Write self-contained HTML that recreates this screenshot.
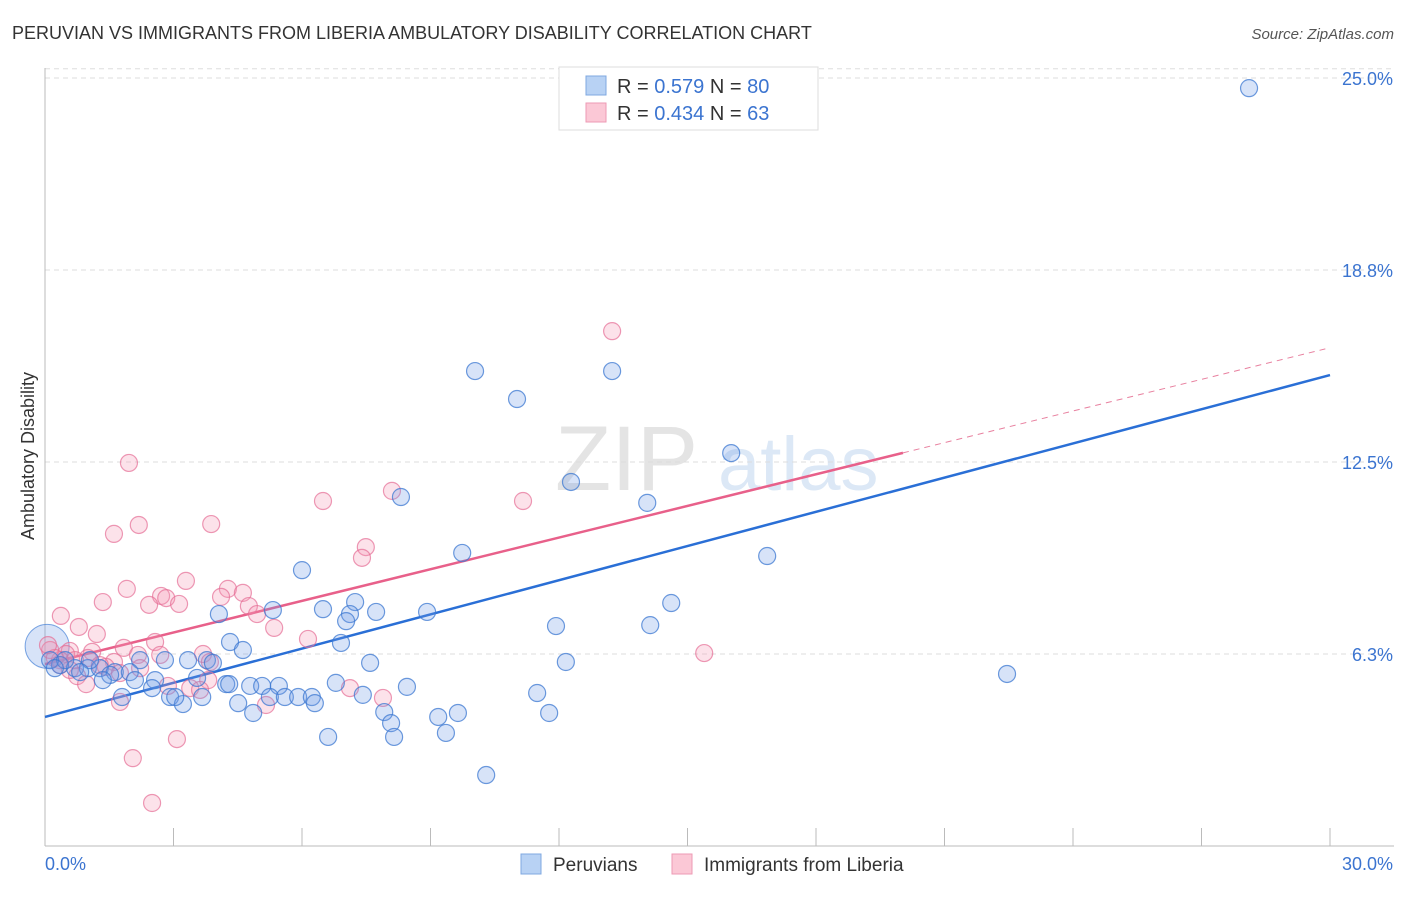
<!DOCTYPE html>
<html><head><meta charset="utf-8"><style>
body{margin:0;background:#fff;font-family:"Liberation Sans",sans-serif}
svg text{font-family:"Liberation Sans",sans-serif}
</style></head><body>
<svg id="chart" width="1406" height="892" viewBox="0 0 1406 892" xmlns="http://www.w3.org/2000/svg">
<text x="12" y="39" font-size="18" fill="#333">PERUVIAN VS IMMIGRANTS FROM LIBERIA AMBULATORY DISABILITY CORRELATION CHART</text>
<text x="1394" y="39" font-size="15" fill="#555" text-anchor="end" font-style="italic">Source: ZipAtlas.com</text>
<g><text x="555" y="490" font-size="92" fill="#e4e4e4" font-family="Liberation Serif">ZIP</text><text x="718" y="490" font-size="76" fill="#dce8f6">atlas</text></g>
<g id="grid"></g>
<g id="axes"></g>
<text transform="translate(34,456) rotate(-90)" font-size="18" fill="#333" text-anchor="middle">Ambulatory Disability</text>
<g id="lines"></g>
<g id="pts"></g>
<g>
<rect x="559" y="67" width="259" height="63" fill="#fff" stroke="#ddd"/>
<rect x="586" y="76" width="20" height="19" fill="#b8d2f4" stroke="#7fa8e0"/>
<rect x="586" y="103" width="20" height="19" fill="#fbc8d6" stroke="#ee9ab4"/>
<text x="617" y="93" font-size="20" fill="#333">R = <tspan fill="#3b74d0">0.579</tspan>   N = <tspan fill="#3b74d0">80</tspan></text>
<text x="617" y="120" font-size="20" fill="#333">R = <tspan fill="#3b74d0">0.434</tspan>   N = <tspan fill="#3b74d0"> 63</tspan></text>
</g>
<g>
<rect x="521" y="854" width="20" height="20" fill="#b8d2f4" stroke="#7fa8e0"/>
<text x="553" y="871" font-size="19" fill="#333">Peruvians</text>
<rect x="672" y="854" width="20" height="20" fill="#fbc8d6" stroke="#ee9ab4"/>
<text x="704" y="871" font-size="19" fill="#333">Immigrants from Liberia</text>
</g>
</svg>
<script>
const yTicks=[6.25,12.5,18.75,25];
const yTickLabels=["6.3%","12.5%","18.8%","25.0%"];
const xTickVals=[0,3,6,9,12,15,18,21,24,27,30];
const blueX=[28.11,10.04,13.24,11.02,16.02,12.28,8.31,14.06,16.86,9.74,6.00,14.62,7.24,6.49,7.73,8.92,4.06,5.32,7.12,7.03,11.93,14.13,4.32,6.91,4.62,2.80,3.34,3.78,3.92,2.22,7.59,12.16,22.46,0.35,0.70,1.00,1.28,1.63,1.98,1.52,1.35,2.10,2.57,3.55,4.23,4.79,5.07,5.46,6.79,8.45,1.80,2.50,2.92,3.22,3.67,4.51,5.25,5.60,5.91,6.23,6.30,7.42,11.49,4.86,7.92,8.08,9.18,9.64,11.77,6.61,8.15,9.36,10.30,0.12,0.47,1.05,0.82,3.04,4.30,0.23];
const blueY=[24.67,15.46,15.46,14.55,12.79,11.85,11.36,11.17,9.44,9.54,8.98,7.91,7.94,7.71,7.62,7.62,7.55,7.68,7.55,7.32,7.16,7.19,6.64,6.61,6.38,6.05,6.05,6.05,5.96,6.05,5.96,5.99,5.60,5.89,5.79,5.79,5.79,5.66,5.66,5.57,5.40,5.40,5.40,5.47,5.27,5.21,5.21,5.21,5.31,5.18,4.85,5.14,4.85,4.62,4.85,4.65,4.85,4.85,4.85,4.85,4.65,4.92,4.98,4.33,4.36,4.00,4.20,4.33,4.33,3.55,3.55,3.68,2.31,6.05,6.05,6.05,5.66,4.85,5.27,5.79];
const pinkX=[13.24,1.96,8.10,6.49,11.16,2.19,3.88,1.61,7.49,7.40,3.29,1.91,4.27,2.71,2.83,4.62,1.35,2.43,3.13,4.11,4.76,0.37,0.79,4.95,5.35,1.21,2.57,6.14,15.39,1.84,2.17,0.58,0.49,1.10,1.00,3.69,3.85,0.35,1.61,1.42,1.75,0.75,0.96,2.87,3.39,3.81,7.12,7.89,5.16,1.75,3.08,2.05,2.50,0.12,0.23,0.70,1.28,2.22,3.62,2.69,0.58,0.35,0.07];
const pinkY=[16.76,12.47,11.56,11.23,11.23,10.45,10.48,10.16,9.73,9.38,8.63,8.37,8.37,8.14,8.07,8.24,7.94,7.85,7.88,8.11,7.81,7.49,7.13,7.55,7.10,6.90,6.64,6.74,6.28,6.45,6.22,6.35,6.25,6.32,6.12,6.25,5.99,6.05,5.99,5.83,5.63,5.53,5.27,5.21,5.14,5.40,5.14,4.82,4.59,4.69,3.48,2.86,1.40,6.38,6.12,6.05,5.89,5.79,5.08,6.22,5.73,5.89,6.54];
const blueLine=[4.2,15.33];
const pinkLine=[5.92,16.22];
const pinkSolidEnd=20.03;
const NS="http://www.w3.org/2000/svg";
const X=v=>45+v*(1285/30), Y=v=>846-v*30.72;
function mk(t,a,p){const e=document.createElementNS(NS,t);for(const k in a)e.setAttribute(k,a[k]);p.appendChild(e);return e;}
const grid=document.getElementById('grid'),axes=document.getElementById('axes');
[...yTicks,25.3].forEach((t,i)=>{
  const g=mk('line',{x1:45,x2:1394,y1:Y(t),y2:Y(t),stroke:'#ddd','stroke-dasharray':'5,4'},grid);
  
  
});
yTicks.forEach((t,i)=>{
  const l=mk('text',{x:1393,y:Y(t)+7,'font-size':18,fill:'#3b74d0','text-anchor':'end'},axes);l.textContent=yTickLabels[i];
  
  
});
mk('line',{x1:45,x2:45,y1:68,y2:846,stroke:'#bbb'},axes);
mk('line',{x1:45,x2:1394,y1:846,y2:846,stroke:'#bbb'},axes);
xTickVals.forEach(v=>{if(v>0){const t=mk('line',{x1:X(v),x2:X(v),y1:828,y2:846,stroke:'#bbb'},axes);
  
  }});
const xl0=mk('text',{x:45,y:870,'font-size':18,fill:'#3b74d0'},axes);xl0.textContent="0.0%";


const xl1=mk('text',{x:1393,y:870,'font-size':18,fill:'#3b74d0','text-anchor':'end'},axes);xl1.textContent="30.0%";


const pts=document.getElementById('pts');
const big=mk('circle',{cx:X(0.05),cy:Y(6.5),r:22,fill:'rgba(110,155,230,0.28)',stroke:'rgba(70,130,215,0.7)'},pts);


pinkX.forEach((v,i)=>{const c=mk('circle',{cx:X(v),cy:Y(pinkY[i]),r:8.5,fill:'rgba(245,150,180,0.28)',stroke:'rgba(230,110,150,0.7)','stroke-width':1.2},pts);
  
  });
blueX.forEach((v,i)=>{const c=mk('circle',{cx:X(v),cy:Y(blueY[i]),r:8.5,fill:'rgba(110,155,230,0.28)',stroke:'rgba(60,120,210,0.75)','stroke-width':1.2},pts);
  
  });
const lines=document.getElementById('lines');
const pAt=x=>pinkLine[0]+(pinkLine[1]-pinkLine[0])*x/30;
const bl=mk('line',{x1:X(0),y1:Y(blueLine[0]),x2:X(30),y2:Y(blueLine[1]),stroke:'#2a6fd6','stroke-width':2.5},lines);


const pl=mk('line',{x1:X(0),y1:Y(pinkLine[0]),x2:X(pinkSolidEnd),y2:Y(pAt(pinkSolidEnd)),stroke:'#e8608a','stroke-width':2.5},lines);


const pd=mk('line',{x1:X(pinkSolidEnd),y1:Y(pAt(pinkSolidEnd)),x2:X(30),y2:Y(pinkLine[1]),stroke:'#e8809f','stroke-width':1,'stroke-dasharray':'6,5'},lines);


</script>
</body></html>
